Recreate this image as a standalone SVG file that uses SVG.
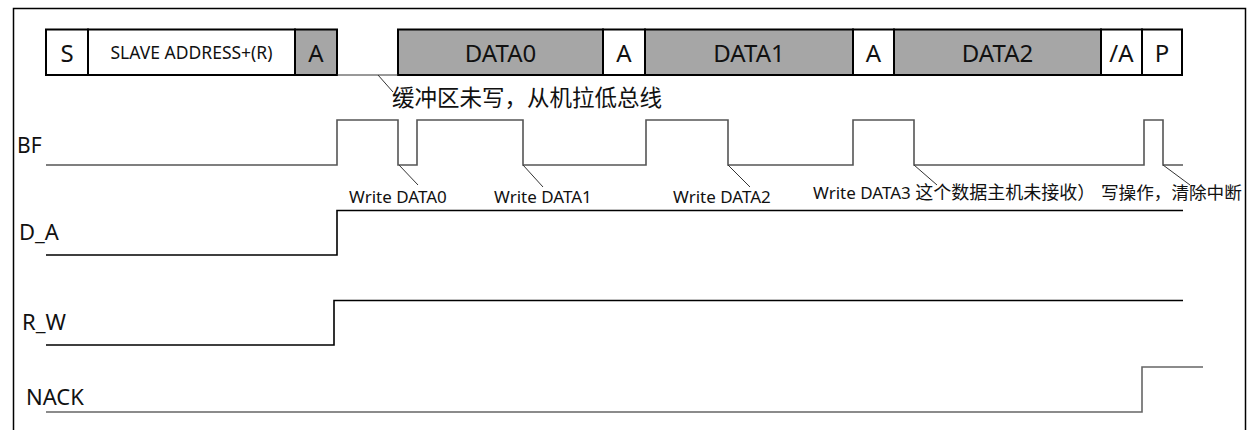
<svg xmlns="http://www.w3.org/2000/svg" width="1250" height="430" viewBox="0 0 1250 430">
<style>
.box{stroke:#000;stroke-width:2}
.w{fill:#fff}
.g{fill:#a6a6a6}
.bt{font-family:"Noto Sans","Noto Sans CJK SC",sans-serif;fill:#111;text-anchor:middle;dominant-baseline:central;font-size:24px}
.lbl{font-family:"Noto Sans","Noto Sans CJK SC",sans-serif;font-size:22px;fill:#111}
.note{font-family:"Noto Sans","Noto Sans CJK SC",sans-serif;font-size:17px;fill:#111}
.cjk{font-family:"Noto Sans CJK SC",sans-serif;font-size:18px}
.sig{fill:none;stroke-width:1.6}
.call{fill:none;stroke:#333;stroke-width:1}
</style>
<rect x="0" y="0" width="1250" height="430" fill="#fff"/>
<rect x="13.5" y="8.5" width="1232" height="430" fill="none" stroke="#000" stroke-width="1.5"/>

<g id="frame">
  <g id="box-S"><rect class="box w" x="46" y="29.5" width="42" height="45.5"/><text class="bt" x="67" y="52">S</text></g>
  <g id="box-addr"><rect class="box w" x="88" y="29.5" width="207" height="45.5"/><text class="bt" x="191.5" y="52" style="font-size:17.5px">SLAVE ADDRESS+(R)</text></g>
  <g id="box-A1"><rect class="box g" x="295" y="29.5" width="42" height="45.5"/><text class="bt" x="316" y="52">A</text></g>
  <g id="box-DATA0"><rect class="box g" x="398" y="29.5" width="205" height="45.5"/><text class="bt" x="500.5" y="52">DATA0</text></g>
  <g id="box-A2"><rect class="box w" x="603" y="29.5" width="42" height="45.5"/><text class="bt" x="624" y="52">A</text></g>
  <g id="box-DATA1"><rect class="box g" x="645" y="29.5" width="208" height="45.5"/><text class="bt" x="749" y="52">DATA1</text></g>
  <g id="box-A3"><rect class="box w" x="853" y="29.5" width="41" height="45.5"/><text class="bt" x="873.5" y="52">A</text></g>
  <g id="box-DATA2"><rect class="box g" x="894" y="29.5" width="207" height="45.5"/><text class="bt" x="997.5" y="52">DATA2</text></g>
  <g id="box-NA"><rect class="box w" x="1101" y="29.5" width="41" height="45.5"/><text class="bt" x="1121.5" y="52">/A</text></g>
  <g id="box-P"><rect class="box w" x="1142" y="29.5" width="40" height="45.5"/><text class="bt" x="1162" y="52">P</text></g>
</g>

<g id="signals">
  <g id="BF"><text class="lbl" x="17" y="153" style="font-size:21px">BF</text>
    <polyline class="sig" stroke="#555" points="46,165 337,165 337,120 398,120 398,165 417,165 417,120 523,120 523,165 646,165 646,120 728,120 728,165 853,165 853,120 914,120 914,165 1144,165 1144,120 1163,120 1163,165 1183,165"/></g>
  <g id="D_A"><text class="lbl" x="19" y="240">D_A</text>
    <polyline class="sig" stroke="#000" points="46,255 337,255 337,210.5 1183,210.5"/></g>
  <g id="R_W"><text class="lbl" x="22" y="330">R_W</text>
    <polyline class="sig" stroke="#000" points="46,345 334,345 334,300.5 1183,300.5"/></g>
  <g id="NACK"><text class="lbl" x="26" y="405">NACK</text>
    <polyline class="sig" stroke="#666" stroke-width="2" points="46,412 1142,412 1142,367 1203,367"/></g>
</g>

<g id="connectors">
  <line class="call" stroke="#777" stroke-width="1.6" x1="337" y1="75" x2="398" y2="75"/>
  <line class="call" x1="378" y1="75" x2="393" y2="92"/>
  <line class="call" x1="399" y1="165" x2="418" y2="185"/>
  <line class="call" x1="523" y1="165" x2="543" y2="187"/>
  <line class="call" x1="728" y1="165" x2="750" y2="187"/>
  <line class="call" x1="914" y1="165" x2="937" y2="185"/>
  <line class="call" x1="1163" y1="165" x2="1190" y2="185"/>
</g>

<g id="notes">
  <text x="392" y="106" font-family="Noto Sans CJK SC, sans-serif" font-size="22.5" fill="#111">缓冲区未写，从机拉低总线</text>
  <text class="note" x="349" y="202.5">Write DATA0</text>
  <text class="note" x="494" y="202.5">Write DATA1</text>
  <text class="note" x="673" y="202.5">Write DATA2</text>
  <text class="note" x="813" y="198.5">Write DATA3 <tspan class="cjk">这个数据主机未接收）</tspan></text>
  <text class="cjk" x="1101" y="198.5" fill="#111" style="font-size:17.6px">写操作，清除中断</text>
</g>
</svg>
